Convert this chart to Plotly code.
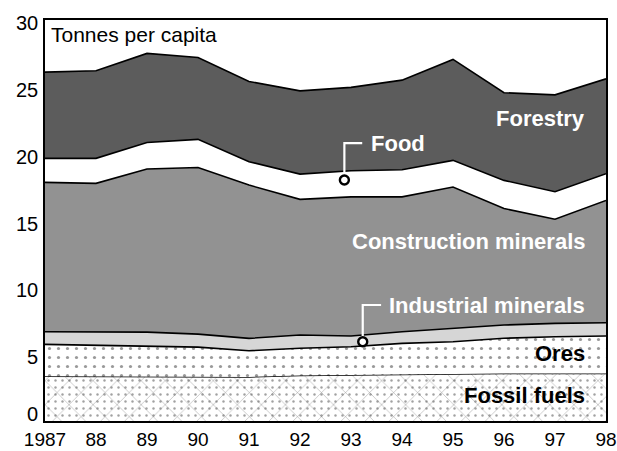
import numpy as np
import plotly.graph_objects as go

years = [1987, 1988, 1989, 1990, 1991, 1992, 1993, 1994, 1995, 1996, 1997, 1998]
tick_labels = ["1987", "88", "89", "90", "91", "92", "93", "94", "95", "96", "97", "98"]

fossil_fuels = [3.35, 3.35, 3.35, 3.35, 3.30, 3.40, 3.45, 3.50, 3.50, 3.55, 3.55, 3.55]
ores = [2.38, 2.33, 2.25, 2.18, 1.96, 2.04, 2.11, 2.31, 2.43, 2.64, 2.75, 2.81]
industrial_minerals = [0.95, 1.00, 1.05, 0.97, 0.92, 0.99, 0.80, 0.87, 1.00, 0.99, 1.00, 0.99]
construction_minerals = [11.17, 11.10, 12.20, 12.47, 11.47, 10.15, 10.41, 10.09, 10.57, 8.72, 7.80, 9.15]
food = [1.80, 1.87, 1.99, 2.10, 1.75, 1.89, 1.95, 2.03, 2.00, 2.10, 2.05, 2.00]
forestry = [6.45, 6.55, 6.66, 6.13, 6.00, 6.23, 6.24, 6.70, 7.55, 6.56, 7.25, 7.10]

y_ticks = [0, 5, 10, 15, 20, 25, 30]
y_tick_labels = ["0", "5", "10", "15", "20", "25", "30"]

layers = [fossil_fuels, ores, industrial_minerals, construction_minerals, food, forestry]
tops = np.cumsum(np.array(layers), axis=0)

FONT = "Liberation Sans, Arial, Helvetica, sans-serif"
LINE = dict(color="black", width=1.6)

fig = go.Figure()

# Fossil fuels (sticks + dots)
fig.add_trace(go.Scatter(
    x=years, y=tops[0], mode="lines", line=LINE, fill="tozeroy",
    fillcolor="white",
    fillpattern=dict(shape="x", size=17, solidity=0.05, fgcolor="#111", bgcolor="white"),
    hoverinfo="skip", showlegend=False))
fig.add_trace(go.Scatter(
    x=years, y=tops[0], mode="lines", line=dict(width=0), fill="tozeroy",
    fillpattern=dict(shape=".", size=7, solidity=0.1, fgcolor="#444", bgcolor="rgba(0,0,0,0)"),
    hoverinfo="skip", showlegend=False))
# Ores (dots)
fig.add_trace(go.Scatter(
    x=years, y=tops[1], mode="lines", line=LINE, fill="tonexty",
    fillpattern=dict(shape=".", size=9, solidity=0.1, fgcolor="#333", bgcolor="white"),
    hoverinfo="skip", showlegend=False))
# Industrial minerals
fig.add_trace(go.Scatter(
    x=years, y=tops[2], mode="lines", line=LINE, fill="tonexty",
    fillcolor="#d6d6d6", hoverinfo="skip", showlegend=False))
# Construction minerals
fig.add_trace(go.Scatter(
    x=years, y=tops[3], mode="lines", line=LINE, fill="tonexty",
    fillcolor="#929292", hoverinfo="skip", showlegend=False))
# Food
fig.add_trace(go.Scatter(
    x=years, y=tops[4], mode="lines", line=LINE, fill="tonexty",
    fillcolor="white", hoverinfo="skip", showlegend=False))
# Forestry
fig.add_trace(go.Scatter(
    x=years, y=tops[5], mode="lines", line=LINE, fill="tonexty",
    fillcolor="#5c5c5c", hoverinfo="skip", showlegend=False))

# Callouts
food_pt = (1992.87, 18.03)
ind_pt = (1993.23, 5.93)
fig.add_trace(go.Scatter(
    x=[food_pt[0], food_pt[0], 1993.22], y=[food_pt[1], 20.79, 20.79],
    mode="lines", line=dict(color="white", width=2.2), hoverinfo="skip", showlegend=False))
fig.add_trace(go.Scatter(
    x=[ind_pt[0], ind_pt[0], 1993.59], y=[ind_pt[1], 8.68, 8.68],
    mode="lines", line=dict(color="white", width=2.2), hoverinfo="skip", showlegend=False))
fig.add_trace(go.Scatter(
    x=[food_pt[0], ind_pt[0]], y=[food_pt[1], ind_pt[1]], mode="markers",
    marker=dict(symbol="circle", size=9, color="white", line=dict(color="black", width=2.4)),
    hoverinfo="skip", showlegend=False))

ann_common = dict(showarrow=False, xref="paper", yref="y")
RIGHT_X = 0.966
annotations = [
    dict(text="Tonnes per capita", x=0.007, y=28.9, xanchor="left", yanchor="middle",
         font=dict(family=FONT, size=21, color="black")),
    dict(text="<b>Forestry</b>", x=RIGHT_X, y=22.6, xanchor="right", yanchor="middle",
         font=dict(family=FONT, size=22, color="white")),
    dict(text="<b>Food</b>", x=(369 - 45) / 561, y=20.75, xanchor="left", yanchor="middle",
         font=dict(family=FONT, size=22, color="white")),
    dict(text="<b>Construction minerals</b>", x=RIGHT_X, y=13.43, xanchor="right", yanchor="middle",
         font=dict(family=FONT, size=22, color="white")),
    dict(text="<b>Industrial minerals</b>", x=RIGHT_X, y=8.64, xanchor="right", yanchor="middle",
         font=dict(family=FONT, size=22, color="white")),
    dict(text="<b>Ores</b>", x=RIGHT_X, y=5.05, xanchor="right", yanchor="middle",
         font=dict(family=FONT, size=22, color="black")),
    dict(text="<b>Fossil fuels</b>", x=RIGHT_X, y=1.91, xanchor="right", yanchor="middle",
         font=dict(family=FONT, size=22, color="black")),
]
# Y-axis tick labels (the "0" sits a little higher, clear of the year labels)
for v, lab in zip(y_ticks, y_tick_labels):
    annotations.append(dict(text=lab, x=0, y=v, xanchor="right", yanchor="middle",
                            xshift=-5, yshift=(7 if v == 0 else -3),
                            font=dict(family=FONT, size=20, color="black")))
for a in annotations:
    a.update(ann_common)

fig.update_layout(
    width=617, height=451,
    margin=dict(l=45, r=11, t=20, b=30, autoexpand=False),
    paper_bgcolor="white", plot_bgcolor="white",
    font=dict(family=FONT, size=20, color="black"),
    annotations=annotations,
    showlegend=False,
)
fig.update_xaxes(
    range=[1987, 1998], tickvals=years, ticktext=tick_labels,
    showgrid=False, zeroline=False, showline=True, mirror=True,
    linecolor="black", linewidth=2, ticks="", tickfont=dict(size=19),
    ticklabelstandoff=0, automargin=False, ticklabeloverflow="allow",
)
fig.update_yaxes(
    range=[0, 30], tickvals=y_ticks, showticklabels=False,
    showgrid=False, zeroline=False, showline=True, mirror=True,
    linecolor="black", linewidth=2, ticks="", automargin=False,
)

fig.write_html("out.html", config={"displayModeBar": False},
               post_script="document.body.style.margin='0';document.body.style.overflow='hidden';")
